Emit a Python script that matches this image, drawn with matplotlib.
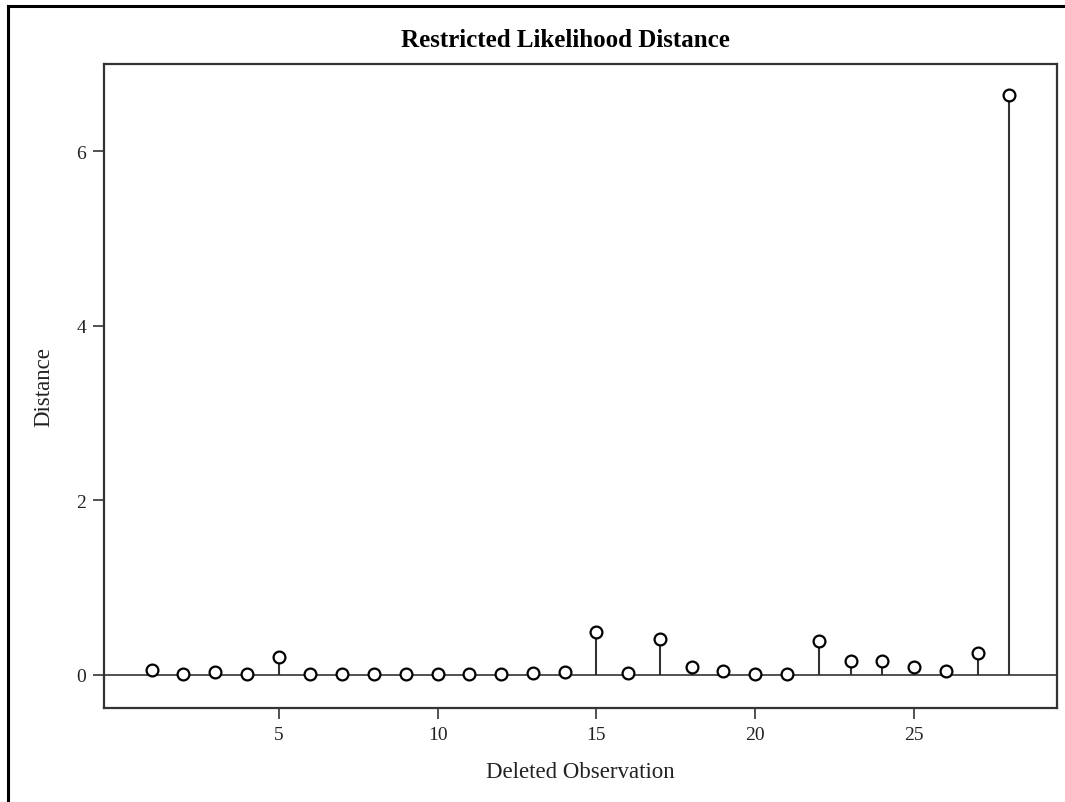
import matplotlib
matplotlib.use("Agg")
import matplotlib.pyplot as plt
from matplotlib.lines import Line2D

#------
#data
obs = list(range(1, 29))
distance = [0.06, 0.01, 0.03, 0.01, 0.20, 0.01, 0.01, 0.01, 0.01, 0.01,
            0.01, 0.01, 0.02, 0.03, 0.49, 0.02, 0.41, 0.09, 0.045, 0.01,
            0.01, 0.39, 0.16, 0.16, 0.09, 0.04, 0.25, 6.64]
xticks = [5, 10, 15, 20, 25]
yticks = [0, 2, 4, 6]

plt.rcParams['font.family'] = ['Liberation Serif', 'DejaVu Serif']
txt = '#222222'

fig = plt.figure(figsize=(10.65, 8.03), dpi=100)
ax = fig.add_axes([104/1065, 1-709/803, (1057-104)/1065, (709-65)/803])

#stems and circles
ax.axhline(0, color='#333333', lw=1.2, zorder=1)
ax.vlines(obs, 0, distance, color='#333333', lw=1.5, zorder=2)
ax.plot(obs, distance, 'o', mfc='white', mec='black', mew=1.6, ms=8.5, zorder=3)

ax.set_xlim(-0.5, 29.5)
ax.set_ylim(-0.38, 7.0)
ax.set_xticks(xticks)
ax.set_yticks(yticks)
ax.tick_params(direction='out', length=8, width=1.2, labelsize=14, pad=5,
               color='#333333', labelcolor=txt)
for s in ax.spines.values():
    s.set_linewidth(1.6)
    s.set_color('#333333')

ax.set_title('Restricted Likelihood Distance', fontsize=18, fontweight='bold',
             pad=13, x=0.484)
ax.set_xlabel('Deleted Observation', fontsize=16.5, labelpad=13, color=txt)
ax.set_ylabel('Distance', fontsize=16.5, labelpad=16, color=txt)

#outer frame (top and left only, as in the picture)
fig.add_artist(Line2D([8/1065, 1], [1-7/803, 1-7/803], color='black', lw=2.2))
fig.add_artist(Line2D([8/1065, 8/1065], [0, 1-7/803], color='black', lw=2.2))

fig.savefig('out.png', dpi=100, facecolor='white')
